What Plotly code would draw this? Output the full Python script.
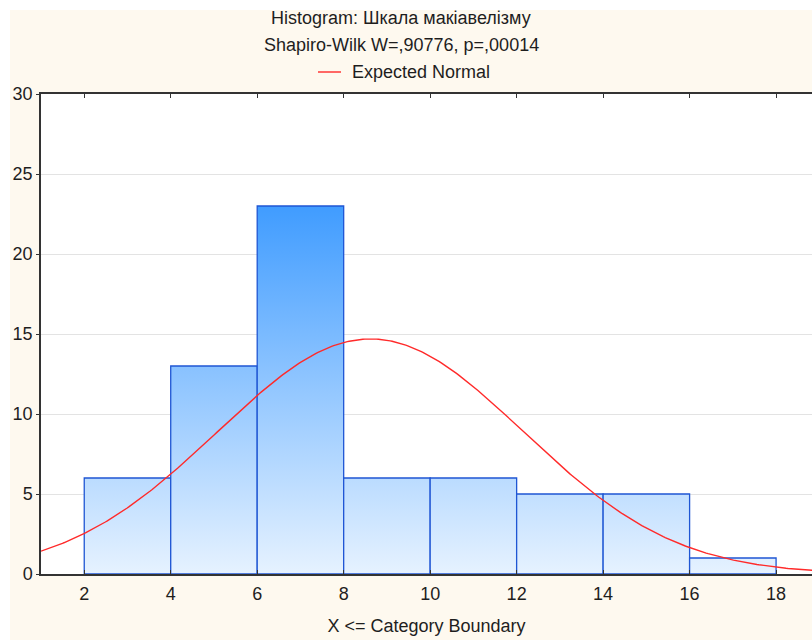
import numpy as np
import plotly.graph_objects as go

# ---- data ----
bin_upper = [4, 6, 8, 10, 12, 14, 16, 18]          # X <= category boundary
bin_lower = [2, 4, 6, 8, 10, 12, 14, 16]
counts = [6, 13, 23, 6, 6, 5, 5, 1]
x_ticks = [2, 4, 6, 8, 10, 12, 14, 16, 18]
y_ticks = [0, 5, 10, 15, 20, 25, 30]
norm_mean = 8.62
norm_sd = 3.53
n_obs = sum(counts)
bin_width = 2

title1 = "Histogram: Шкала макіавелізму"
title2 = "Shapiro-Wilk W=,90776, p=,00014"
legend_name = "Expected Normal"
x_title = "X <= Category Boundary"

# ---- layout geometry (screen pixels) ----
W, H = 812, 640
ml, mr, mt, mb = 41, 0, 94, 66
pw, ph = W - ml - mr, H - mt - mb
def px(xp):
    return (xp - ml) / pw
def py(yp):
    return (H - mb - yp) / ph

FONT = "Liberation Sans, Arial, sans-serif"
FS = 18
fig = go.Figure()

ymax = max(counts)
for lo, hi, c in zip(bin_lower, bin_upper, counts):
    fig.add_trace(go.Scatter(
        x=[lo, hi, hi, lo, lo], y=[0, 0, c, c, 0],
        mode="lines", line=dict(color="#1f56d4", width=1.3), fill="toself",
        fillgradient=dict(type="vertical",
                          colorscale=[[0, "#e6f2ff"], [1, "#409cff"]],
                          start=0, stop=ymax),
        hoverinfo="skip", showlegend=False))

# expected normal curve
xc = np.linspace(1, 19, 400)
yc = n_obs * bin_width / (norm_sd * np.sqrt(2 * np.pi)) * np.exp(-0.5 * ((xc - norm_mean) / norm_sd) ** 2)
fig.add_trace(go.Scatter(x=xc, y=yc, mode="lines",
                         line=dict(color="#ff2a2a", width=1.4),
                         name=legend_name, showlegend=False))

xr = [1, 1 + pw / 43.24]

fig.update_layout(
    width=W, height=H,
    margin=dict(l=ml, r=mr, t=mt, b=mb),
    paper_bgcolor="#fef9ef", plot_bgcolor="white",
    font=dict(family=FONT, size=FS, color="#1e1e1e"),
    xaxis=dict(range=xr, tickvals=x_ticks, ticks="inside", ticklen=4,
               tickcolor="#333", showline=True, linecolor="#333", linewidth=1.5,
               mirror="ticks", showgrid=False, zeroline=False,
               ticklabelstandoff=3,
               tickfont=dict(size=FS, family=FONT, color="#1e1e1e"),
               title=dict(text=x_title, font=dict(size=FS, family=FONT, color="#1e1e1e"), standoff=16)),
    yaxis=dict(range=[0, 30], tickvals=y_ticks, ticks="outside", ticklen=3,
               tickcolor="#333", showline=True, linecolor="#333", linewidth=1.5,
               mirror=False, showgrid=True, gridcolor="#e3e3e3", gridwidth=1,
               zeroline=False, tickfont=dict(size=FS, family=FONT, color="#1e1e1e")),
    showlegend=False,
)

# white strips at left/top edges
fig.add_shape(type="rect", xref="paper", yref="paper",
              x0=px(-2), x1=px(10), y0=py(H + 2), y1=py(-2),
              fillcolor="white", line=dict(width=0), layer="below")
fig.add_shape(type="rect", xref="paper", yref="paper",
              x0=px(-2), x1=px(W + 2), y0=py(10), y1=py(-2),
              fillcolor="white", line=dict(width=0), layer="below")

# titles
fig.add_annotation(text=title1, xref="paper", yref="paper", x=px(401), y=py(18),
                   showarrow=False, xanchor="center", yanchor="middle",
                   font=dict(size=FS, family=FONT, color="#1e1e1e"))
fig.add_annotation(text=title2, xref="paper", yref="paper", x=px(401), y=py(45),
                   showarrow=False, xanchor="center", yanchor="middle",
                   font=dict(size=FS, family=FONT, color="#1e1e1e"))
# legend
fig.add_shape(type="line", xref="paper", yref="paper",
              x0=px(318), x1=px(341), y0=py(72), y1=py(72),
              line=dict(color="#ff2a2a", width=1.4))
fig.add_annotation(text=legend_name, xref="paper", yref="paper", x=px(350), y=py(72),
                   showarrow=False, xanchor="left", yanchor="middle",
                   font=dict(size=FS, family=FONT, color="#1e1e1e"))

fig.write_html("out.html", config={"displayModeBar": False},
               post_script="document.body.style.margin='0px';document.body.style.overflow='hidden';")
